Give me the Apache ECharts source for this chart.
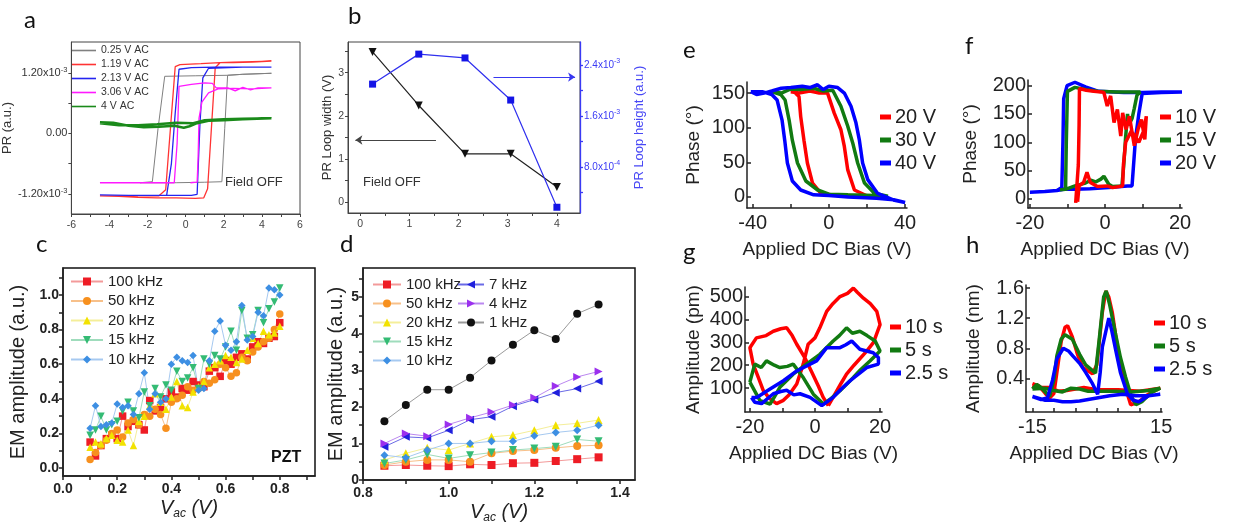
<!DOCTYPE html>
<html>
<head>
<meta charset="utf-8">
<title>PR loops, EM amplitude and PFM loops</title>
<script src="https://cdn.jsdelivr.net/npm/echarts@6/dist/echarts.min.js"></script>
<style>
html, body { margin: 0; padding: 0; background: #fff; }
#chart { width: 1234px; height: 529px; }
</style>
</head>
<body>
<div id="chart"></div>
<script>
// ---------- panel a : PR loops, y in units of 1e-3
var aNames = ['0.25 V AC', '1.19 V AC', '2.13 V AC', '3.06 V AC', '4 V AC'];
var aGray = [[-2.4,-0.98],[-0.5,-0.98],[1.0,-0.97],[1.9,-0.96],[2.05,0.1],[2.2,1.15],[3.0,1.17],[4.5,1.19],[3.0,1.17],[2.2,1.15],[0.5,1.14],[-1.1,1.13],[-1.45,0.1],[-1.75,-0.96],[-2.4,-0.98]];
var aRed = [[-4.5,-1.24],[-3.5,-1.25],[-2.5,-1.27],[-1.5,-1.28],[-0.5,-1.28],[0.5,-1.29],[0.95,-1.28],[1.15,-1.1],[1.35,0.1],[1.55,1.3],[1.8,1.40],[2.5,1.40],[3.5,1.41],[4.5,1.43],[3.5,1.42],[2.5,1.41],[1.8,1.40],[0.8,1.38],[-0.3,1.36],[-0.55,1.32],[-0.8,0.1],[-1.05,-1.12],[-1.4,-1.24],[-4.5,-1.24]];
var aBlue = [[-4.5,-1.22],[-3,-1.23],[-1.0,-1.23],[-0.75,-0.6],[-0.55,0.4],[-0.35,1.27],[0.3,1.30],[1.5,1.31],[3,1.31],[4.5,1.31],[3,1.31],[1.2,1.29],[0.9,1.1],[0.75,0.2],[0.6,-1.21],[0.3,-1.23],[0.05,-1.23],[-1.0,-1.23]];
var aMagenta = [[-4.5,-0.98],[-2,-0.98],[-0.6,-0.98],[-0.45,-0.2],[-0.35,0.93],[0.3,0.97],[1.0,1.0],[1.4,0.99],[1.6,0.9],[2.2,0.9],[2.6,0.84],[3.0,0.91],[3.4,0.86],[3.8,0.9],[4.5,0.9],[3.5,0.88],[2.5,0.89],[1.7,0.88],[1.2,0.8],[0.85,0.62],[0.7,0.3],[0.65,-0.5],[0.6,-0.97],[0.25,-0.98]];
var aGreen = [[-4.5,0.22],[-3.8,0.21],[-3,0.15],[-2.2,0.12],[-1.4,0.13],[-0.6,0.15],[-0.1,0.11],[0.2,0.14],[0.6,0.2],[1.2,0.25],[2,0.26],[3,0.28],[4.5,0.3],[3,0.29],[2,0.28],[1,0.26],[0.4,0.2],[-0.5,0.21],[-1.5,0.18],[-2.5,0.16],[-3.5,0.16],[-4.5,0.2]];

// ---------- panel b : loop width / height vs AC voltage
var bVac = [0.25, 1.19, 2.13, 3.06, 4];
var bWidth = [3.48, 2.24, 1.12, 1.12, 0.35];
var bHeight = [2.10, 2.57, 2.51, 1.85, 0.17]; // x1e-3

// ---------- panel c : EM amplitude, PZT
var cNames = ['100 kHz', '50 kHz', '20 kHz', '15 kHz', '10 kHz'];
var cVac = [0.10,0.12,0.14,0.16,0.18,0.20,0.22,0.24,0.26,0.28,0.30,0.32,0.34,0.36,0.38,0.40,0.42,0.44,0.46,0.48,0.50,0.52,0.54,0.56,0.58,0.60,0.62,0.64,0.66,0.68,0.70,0.72,0.74,0.76,0.78,0.80];
var c100 = [0.15,0.07,0.13,0.17,0.19,0.17,0.30,0.24,0.27,0.25,0.22,0.39,0.33,0.35,0.40,0.44,0.41,0.46,0.45,0.50,0.48,0.47,0.56,0.58,0.53,0.62,0.60,0.64,0.66,0.63,0.70,0.73,0.72,0.75,0.76,0.84];
var c50 = [0.05,0.09,0.13,0.16,0.20,0.22,0.18,0.26,0.28,0.25,0.31,0.30,0.34,0.31,0.23,0.38,0.40,0.42,0.47,0.45,0.46,0.50,0.49,0.51,0.60,0.58,0.53,0.55,0.64,0.62,0.67,0.70,0.73,0.75,0.80,0.89];
var c20 = [0.12,0.15,0.14,0.17,0.19,0.16,0.15,0.22,0.13,0.27,0.30,0.36,0.43,0.38,0.34,0.41,0.50,0.36,0.35,0.44,0.47,0.50,0.58,0.60,0.62,0.65,0.64,0.61,0.63,0.68,0.75,0.72,0.79,0.77,0.78,0.82];
var c15 = [0.19,0.22,0.30,0.22,0.25,0.27,0.33,0.38,0.33,0.29,0.44,0.36,0.46,0.41,0.48,0.45,0.56,0.50,0.52,0.58,0.46,0.63,0.60,0.65,0.63,0.70,0.79,0.68,0.91,0.75,0.77,0.91,0.84,0.92,0.96,1.04];
var c10 = [0.23,0.36,0.24,0.25,0.26,0.37,0.35,0.36,0.31,0.43,0.55,0.34,0.43,0.38,0.40,0.60,0.64,0.62,0.61,0.65,0.45,0.46,0.62,0.79,0.85,0.71,0.68,0.73,0.94,0.74,0.76,0.90,0.88,1.04,1.03,1.00];

// ---------- panel d : EM amplitude, higher voltages
var dNames = ['100 kHz', '50 kHz', '20 kHz', '15 kHz', '10 kHz', '7 kHz', '4 kHz', '1 kHz'];
var dVac = [0.85,0.90,0.95,1.00,1.05,1.10,1.15,1.20,1.25,1.30,1.35];
var d100 = [0.39,0.41,0.39,0.38,0.43,0.41,0.46,0.47,0.52,0.57,0.62];
var d50 = [0.41,0.50,0.55,0.55,0.50,0.73,0.79,0.82,0.88,0.93,0.95];
var d20 = [0.55,0.73,0.88,0.82,1.00,1.18,1.23,1.36,1.50,1.55,1.64];
var d15 = [0.45,0.55,0.70,0.59,0.68,0.75,0.82,0.86,0.91,1.11,1.06];
var d10 = [0.68,0.61,0.82,1.00,1.00,1.06,1.06,1.21,1.30,1.36,1.50];
var d7 = [0.91,1.18,1.15,1.36,1.65,1.73,2.02,2.20,2.39,2.50,2.70];
var d4 = [1.00,1.27,1.20,1.52,1.70,1.86,2.05,2.25,2.57,2.82,2.97];
var d1 = [1.61,2.05,2.47,2.47,2.80,3.27,3.70,4.10,3.86,4.55,4.80];

// ---------- panel e : phase loops
var eNames = ['20 V', '30 V', '40 V'];
var e20 = [[-20,152],[-15.7,150],[-10,153],[-5,150],[-0.7,150],[2.8,121],[6.3,97],[8.1,73],[9.9,39],[13.4,10],[20.4,1],[22,0],[18,1],[10,2],[1.1,3],[-4.2,5],[-8.6,20],[-11.3,49],[-13.1,82],[-14.8,116],[-15.7,145],[-19.2,154],[-20,152]];
var e30 = [[-30,152],[-25,150],[-20,156],[-15,155],[-8,157],[-3,153],[2,154],[6.3,131],[9.9,102],[12.5,78],[15.1,49],[18.7,20],[24,5],[31,1],[24,2],[10,3],[0,4],[-5.9,10],[-12.1,23],[-16.5,49],[-19.2,82],[-20.9,111],[-23,140],[-25.3,148],[-30,152]];
var e40 = [[-41,152],[-38,148],[-34,150],[-30,153],[-25,157],[-20,158],[-14,160],[-10,158],[-6,162],[-3,155],[0,160],[4.6,158],[8.1,150],[11.6,131],[14.2,107],[16,82],[17.7,49],[20.4,25],[25.6,5],[34.4,-5],[40,-8],[34,-4],[25,-2],[10,0],[0,2],[-8,3],[-14.8,10],[-19.2,23],[-21.8,49],[-23.2,82],[-24.6,111],[-27.2,140],[-30,148],[-35,152],[-41,152]];

// ---------- panel f : phase loops
var fNames = ['10 V', '15 V', '20 V'];
var f10 = [[-7.8,-7],[-7.3,-5],[-7.1,60],[-6.9,130],[-6.8,195],[-5,192],[-3,190],[-1,189],[-0.3,188],[0.6,164],[1.5,182],[2.4,135],[3.3,158],[4.2,111],[4.7,152],[5.6,123],[6.5,146],[7.8,94],[8.8,123],[9.7,140],[10.6,105],[11,146],[10.3,120],[9,100],[7,120],[5.5,100],[4.9,60],[4.7,23],[2,20],[0.6,23],[-2,22],[-3.9,29],[-4.8,47],[-5.7,29],[-6.9,23],[-7.3,-5]];
var f15 = [[-12,16],[-10.5,17],[-10.3,100],[-10,190],[-8,197],[-5,193],[-2,190],[3,189],[8,189],[9.4,189],[8.5,183],[7.8,160],[7.2,142],[6.3,130],[6.0,150],[5.5,110],[5,60],[4.5,23],[2,22],[1,26],[-0.3,40],[-1.1,35],[-2.5,30],[-3.8,33],[-5.2,28],[-8,23],[-10.5,17]];
var f20 = [[-20,12],[-16,13],[-12.8,15],[-11.5,20],[-11.2,100],[-11,177],[-10.1,200],[-8,206],[-5.2,198],[-1.7,190],[5,188],[10,188],[15,189],[20.5,189],[15,188],[9.9,186],[9,150],[8.1,105],[7.2,23],[6,23],[1,20],[-4,18],[-8,17],[-11,17],[-12.8,15]];

// ---------- panel g : amplitude loops (pm)
var gNames = ['10 s', '5 s', '2.5 s'];
var g10 = [[4.1,23],[6,70],[8,120],[9.7,161],[12,200],[15.9,262],[18,300],[20,378],[19,436],[17,470],[14.9,494],[13,520],[11.8,538],[10,515],[7.7,501],[5.5,470],[3.6,436],[1.5,364],[0,320],[-2.1,292],[-3.6,205],[-5.6,118],[-8,70],[-9.7,46],[-11.8,32],[-14,55],[-15.9,90],[-17.5,150],[-19,205],[-20,277],[-18,320],[-15,330],[-12.8,349],[-10.5,360],[-8.7,364],[-7,330],[-5.6,292],[-3,230],[-1,170],[1,110],[2.5,60],[4.1,23]];
var g5 = [[-20,126],[-18.5,205],[-16.5,190],[-14.9,219],[-12.5,200],[-10.8,190],[-8.5,195],[-6.7,205],[-3.6,146],[-0.5,73],[2.6,30],[5,55],[7.7,88],[11.8,146],[14,180],[16.9,219],[20,262],[18.5,306],[16,330],[13.8,349],[11.5,340],[9.7,364],[7.5,330],[5.6,306],[1.5,248],[-2.6,205],[-6.7,161],[-10.8,103],[-12.5,60],[-13.8,30],[-16.9,45],[-20,126]];
var g25 = [[-19.5,59],[-18.5,38],[-16.4,32],[-12.8,75],[-10.5,85],[-8.7,90],[-6.5,70],[-4.6,75],[-1.5,59],[2.1,23],[5.6,59],[8,95],[10.8,132],[15.9,190],[19.5,205],[19.5,234],[17.9,255],[13.8,270],[11.3,306],[9.5,290],[7.7,277],[3.6,277],[0.5,219],[-1.5,205],[-5.6,175],[-9.7,132],[-13.8,96],[-17.9,59],[-19.5,59]];

// ---------- panel h : amplitude loops (nm)
var hNames = ['10 s', '5 s', '2.5 s'];
var h10 = [[-15,0.33],[-13.5,0.3],[-12,0.2],[-11,0.14],[-10,0.2],[-9,0.6],[-8.3,0.89],[-7.4,1.08],[-6.8,1.1],[-5.7,0.95],[-4.5,0.72],[-3.3,0.55],[-1,0.46],[0,0.58],[0.5,0.84],[1.3,1.28],[2.1,1.56],[2.8,1.48],[3.6,1.28],[4.8,0.82],[6,0.5],[7,0.22],[7.9,0.05],[9.8,0.09],[11.5,0.17],[12.9,0.22],[14.8,0.27],[10,0.23],[5,0.25],[0,0.25],[-3,0.28],[-5,0.26],[-7,0.24],[-9,0.23],[-11,0.28],[-13,0.28],[-15,0.31]];
var h5 = [[-15,0.26],[-14,0.32],[-13,0.28],[-12,0.22],[-11,0.16],[-10,0.38],[-9.3,0.7],[-8.3,0.92],[-7.4,0.98],[-5.7,0.92],[-4,0.72],[-2.6,0.58],[-0.3,0.47],[0.5,0.88],[1.6,1.48],[2.2,1.56],[3,1.38],[4.4,0.98],[5.5,0.68],[6.7,0.42],[8,0.17],[9.1,0.05],[10.5,0.09],[11.4,0.14],[13,0.22],[14.8,0.27],[12,0.24],[8,0.22],[4,0.23],[1,0.23],[-2,0.23],[-4,0.26],[-6,0.27],[-8,0.22],[-10,0.24],[-12,0.27],[-15,0.26]];
var h25 = [[-15,0.16],[-13,0.12],[-11.5,0.14],[-10.3,0.38],[-9.3,0.66],[-7.8,0.8],[-6.5,0.76],[-5.6,0.7],[-4,0.6],[-2.6,0.48],[-1,0.33],[0.2,0.19],[0.8,0.48],[1.3,0.82],[2.8,1.2],[3.5,1.03],[4.4,0.78],[5.5,0.48],[7.1,0.2],[8.5,0.11],[9.8,0.09],[12.1,0.17],[14.8,0.19],[12,0.17],[9,0.17],[6,0.19],[3,0.17],[0,0.14],[-2,0.12],[-4,0.1],[-6,0.09],[-8,0.09],[-10,0.11],[-12,0.11],[-15,0.16]];

var FONT = '"Liberation Sans", Arial, sans-serif';
var SUP = { s: { fontSize: 7.5, lineHeight: 7, verticalAlign: 'top', fontFamily: FONT, color: '#333' } };

function pairs(xs, ys) {
	return xs.map(function (x, i) { return [x, ys[i]]; });
}

function valAxis(p) {
	return {
		type: 'value', gridIndex: p.grid, min: p.min, max: p.max, position: p.pos,
		name: p.name || '', nameLocation: 'middle', nameGap: p.nameGap || 0, nameRotate: p.nameRotate,
		nameTextStyle: Object.assign({ fontFamily: FONT, color: '#222' }, p.nameStyle || {}),
		axisLine: { show: true, onZero: false, lineStyle: { color: p.color || '#222', width: p.lw || 1 } },
		axisTick: { show: true, inside: !!p.inside, length: p.tickLen || 3, customValues: p.ticks, lineStyle: { color: p.color || '#222', width: p.lw || 1 } },
		axisLabel: {
			customValues: p.labels, margin: p.margin, fontSize: p.fs, fontWeight: p.fw || 'normal',
			color: p.labelColor || '#222', fontFamily: FONT, formatter: p.fmt, rich: p.rich, lineHeight: p.lh
		},
		splitLine: { show: false }
	};
}

function curve(name, gi, yi, data, color, width, z) {
	return {
		name: name, type: 'line', xAxisIndex: gi, yAxisIndex: yi, data: data, symbol: 'none',
		lineStyle: { color: color, width: width }, itemStyle: { color: color }, z: z || 2, silent: true
	};
}

function marked(name, gi, yi, data, color, lineColor, symbol, rotate, size) {
	return {
		name: name, type: 'line', xAxisIndex: gi, yAxisIndex: yi, data: data,
		symbol: symbol, symbolRotate: rotate || 0, symbolSize: size || 7, showSymbol: true,
		lineStyle: { color: lineColor, width: 1 }, itemStyle: { color: color }, silent: true
	};
}

function strip(n) { return n.split('|')[1]; }

var aColors = ['#808080', '#ff3333', '#2424f0', '#ff19ff', '#1a8a1a'];
var aData = [aGray, aRed, aBlue, aMagenta, aGreen];
var cColors = ['#ee1c25', '#f7901e', '#f2e200', '#34bb74', '#3d8fe3'];
var cLines = ['#f39a9a', '#f7c08a', '#f4ee9a', '#9fdcbc', '#a6c9f0'];
var cSymbols = ['rect', 'circle', 'triangle', 'triangle', 'diamond'];
var cRot = [0, 0, 0, 180, 0];
var cData = [c100, c50, c20, c15, c10];
var dData = [d100, d50, d20, d15, d10, d7, d4, d1];
var dColors = cColors.concat(['#2020dd', '#9b30ee', '#111111']);
var dLines = cLines.concat(['#6a6ae6', '#bb88f0', '#9a9a9a']);
var dSymbols = cSymbols.concat(['triangle', 'triangle', 'circle']);
var dRot = cRot.concat([90, -90, 0]);
var pfm = ['#ff0000', '#117a11', '#0000ff'];

var series = [];
aNames.forEach(function (n, i) { series.push(curve('a|' + n, 0, 0, aData[i], aColors[i], i === 4 ? 2.5 : (i === 0 ? 1 : 1.3))); });
series.push({
	name: 'b|width', type: 'line', xAxisIndex: 1, yAxisIndex: 1, data: pairs(bVac, bWidth),
	symbol: 'triangle', symbolRotate: 180, symbolSize: 8, lineStyle: { color: '#222', width: 1.2 }, itemStyle: { color: '#111' },
	markLine: {
		silent: true, symbol: ['none', 'arrow'], symbolSize: 7, label: { show: false },
		lineStyle: { color: '#444', type: 'solid', width: 1 },
		data: [[{ coord: [1.54, 1.44] }, { coord: [-0.1, 1.44] }]]
	}
});
series.push({
	name: 'b|height', type: 'line', xAxisIndex: 1, yAxisIndex: 2, data: pairs(bVac, bHeight),
	symbol: 'rect', symbolSize: 7, lineStyle: { color: '#3030ee', width: 1.2 }, itemStyle: { color: '#1414e6' },
	markLine: {
		silent: true, symbol: ['none', 'arrow'], symbolSize: 7, label: { show: false },
		lineStyle: { color: '#3838f0', type: 'solid', width: 1 },
		data: [[{ coord: [2.71, 2.21] }, { coord: [4.37, 2.21] }]]
	}
});
cNames.forEach(function (n, i) { series.push(marked('c|' + n, 2, 3, pairs(cVac, cData[i]), cColors[i], cLines[i], cSymbols[i], cRot[i], 7.5)); });
dNames.forEach(function (n, i) { series.push(marked('d|' + n, 3, 4, pairs(dVac, dData[i]), dColors[i], dLines[i], dSymbols[i], dRot[i], 8)); });
[e20, e30, e40].forEach(function (d, i) { series.push(curve('e|' + eNames[i], 4, 5, d, pfm[i], 3.5)); });
series.push(curve('f|' + fNames[2], 5, 6, f20, pfm[2], 3.5));
series.push(curve('f|' + fNames[1], 5, 6, f15, pfm[1], 3.5));
series.push(curve('f|' + fNames[0], 5, 6, f10, pfm[0], 3.5));
[g10, g5, g25].forEach(function (d, i) { series.push(curve('g|' + gNames[i], 6, 7, d, pfm[i], 3.5)); });
[h10, h5, h25].forEach(function (d, i) { series.push(curve('h|' + hNames[i], 7, 8, d, pfm[i], 3.5)); });

function prefixed(p, names) { return names.map(function (n) { return p + '|' + n; }); }

function pfmLegend(p, names, left, top) {
	return {
		data: prefixed(p, names), orient: 'vertical', left: left, top: top, padding: 0,
		itemWidth: 11, itemHeight: 5, itemGap: 3, icon: 'rect', formatter: strip, selectedMode: false,
		textStyle: { fontFamily: FONT, fontSize: 20, color: '#222', padding: [0, 0, 0, -1] }
	};
}

function fixed1(v) { return (+v).toFixed(1); }
function expLabel(v) {
	if (Math.abs(v) < 1e-9) return '0.00';
	return (v < 0 ? '-' : '') + Math.abs(v).toFixed(2) + 'x10{s|-3}';
}
function expLabelB(v) {
	return v >= 1 ? v.toFixed(1) + 'x10{s|-3}' : (v * 10).toFixed(1) + 'x10{s|-4}';
}

var vacName = '{i|V}{sub|ac}{i| (V)}';
var vacRich = {
	i: { fontStyle: 'italic', fontSize: 20, fontFamily: FONT, color: '#222', lineHeight: 24 },
	sub: { fontStyle: 'italic', fontSize: 12, fontFamily: FONT, color: '#222', lineHeight: 10, verticalAlign: 'bottom' }
};

var option = {
	animation: false,
	backgroundColor: '#fff',
	grid: [
		{ left: 68, top: 42, width: 232, height: 172, show: true, borderColor: '#444', borderWidth: 1 },
		{ left: 348, top: 42, width: 232, height: 171, show: true, borderColor: '#444', borderWidth: 1 },
		{ left: 63, top: 268, width: 252, height: 208, show: true, borderColor: '#111', borderWidth: 1.5 },
		{ left: 363, top: 268, width: 272, height: 212, show: true, borderColor: '#111', borderWidth: 1.5 },
		{ left: 747, top: 82, width: 160, height: 126 },
		{ left: 1028, top: 80, width: 154, height: 128 },
		{ left: 745, top: 287, width: 137, height: 125 },
		{ left: 1026, top: 285, width: 136, height: 127 }
	],
	xAxis: [
		valAxis({ grid: 0, min: -6, max: 6, ticks: [-6,-5,-4,-3,-2,-1,0,1,2,3,4,5,6], labels: [-6,-4,-2,0,2,4,6], fs: 10.5, margin: 6, color: '#444', labelColor: '#444' }),
		valAxis({ grid: 1, min: -0.25, max: 4.47, ticks: [0,0.5,1,1.5,2,2.5,3,3.5,4], labels: [0,1,2,3,4], fs: 10.5, margin: 6, color: '#444', labelColor: '#444' }),
		valAxis({ grid: 2, min: 0, max: 0.93, ticks: [0,0.1,0.2,0.3,0.4,0.5,0.6,0.7,0.8,0.9], labels: [0,0.2,0.4,0.6,0.8], fs: 14, fw: 'bold', margin: 6, lw: 1.5, tickLen: 4, fmt: fixed1,
			name: vacName, nameGap: 20, nameStyle: { rich: vacRich } }),
		valAxis({ grid: 3, min: 0.8, max: 1.435, ticks: [0.8,0.9,1.0,1.1,1.2,1.3,1.4], labels: [0.8,1.0,1.2,1.4], fs: 14, fw: 'bold', margin: 6, lw: 1.5, tickLen: 4, fmt: fixed1,
			name: vacName, nameGap: 20, nameStyle: { rich: vacRich } }),
		valAxis({ grid: 4, min: -43, max: 41, ticks: [-40,-20,0,20,40], labels: [-40,0,40], fs: 20, margin: 5, inside: true, lw: 1.5, tickLen: 4,
			name: 'Applied DC Bias (V)', nameGap: 32, nameStyle: { fontSize: 19 } }),
		valAxis({ grid: 5, min: -20.5, max: 20.5, ticks: [-20,-10,0,10,20], labels: [-20,0,20], fs: 20, margin: 5, inside: true, lw: 1.5, tickLen: 4,
			name: 'Applied DC Bias (V)', nameGap: 32, nameStyle: { fontSize: 19 } }),
		valAxis({ grid: 6, min: -21.5, max: 20.6, ticks: [-20,-10,0,10,20], labels: [-20,0,20], fs: 20, margin: 5, inside: true, lw: 1.5, tickLen: 4,
			name: 'Applied DC Bias (V)', nameGap: 32, nameStyle: { fontSize: 19 } }),
		valAxis({ grid: 7, min: -16.5, max: 15.2, ticks: [-15,-10,-5,0,5,10,15], labels: [-15,15], fs: 20, margin: 5, inside: true, lw: 1.5, tickLen: 4,
			name: 'Applied DC Bias (V)', nameGap: 32, nameStyle: { fontSize: 19 } })
	],
	yAxis: [
		valAxis({ grid: 0, min: -1.6, max: 1.81, ticks: [-1.2,-0.6,0,0.6,1.2], labels: [-1.2,0,1.2], fs: 11, margin: 4, color: '#444', labelColor: '#333',
			fmt: expLabel, rich: SUP, lh: 14, name: 'PR (a.u.)', nameGap: 45, nameStyle: { fontSize: 13, color: '#333' } }),
		valAxis({ grid: 1, min: -0.25, max: 3.71, ticks: [0,0.5,1,1.5,2,2.5,3,3.5], labels: [0,1,2,3], fs: 10.5, margin: 4, color: '#444', labelColor: '#444',
			name: 'PR Loop width (V)', nameGap: 14, nameStyle: { fontSize: 13, color: '#333' } }),
		valAxis({ grid: 1, pos: 'right', min: 0.08, max: 2.76, ticks: [0.4,0.8,1.2,1.6,2.0,2.4], labels: [0.8,1.6,2.4], fs: 10, margin: 4, color: '#3a3af5', labelColor: '#3a3af5', lw: 1.3,
			fmt: expLabelB, rich: { s: { fontSize: 7, lineHeight: 7, verticalAlign: 'top', fontFamily: FONT, color: '#3a3af5' } }, lh: 14,
			name: 'PR Loop height (a.u.)', nameGap: 53, nameRotate: 90, nameStyle: { fontSize: 13, color: '#4848f5' } }),
		valAxis({ grid: 2, min: -0.046, max: 1.156, ticks: [0,0.1,0.2,0.3,0.4,0.5,0.6,0.7,0.8,0.9,1.0,1.1], labels: [0,0.2,0.4,0.6,0.8,1.0], fs: 14, fw: 'bold', margin: 4, lw: 1.5, tickLen: 4, fmt: fixed1,
			name: 'EM amplitude (a.u.)', nameGap: 35, nameStyle: { fontSize: 20 } }),
		valAxis({ grid: 3, min: 0, max: 5.8, ticks: [0,0.5,1,1.5,2,2.5,3,3.5,4,4.5,5,5.5], labels: [0,1,2,3,4,5], fs: 14, fw: 'bold', margin: 4, lw: 1.5, tickLen: 4,
			name: 'EM amplitude (a.u.)', nameGap: 17, nameStyle: { fontSize: 20 } }),
		valAxis({ grid: 4, min: -16, max: 166, ticks: [0,50,100,150], labels: [0,50,100,150], fs: 20, margin: 2, inside: true, lw: 1.5, tickLen: 4,
			name: 'Phase (°)', nameGap: 44, nameStyle: { fontSize: 19 } }),
		valAxis({ grid: 5, min: -16, max: 210, ticks: [0,50,100,150,200], labels: [0,50,100,150,200], fs: 20, margin: 2, inside: true, lw: 1.5, tickLen: 4,
			name: 'Phase (°)', nameGap: 48, nameStyle: { fontSize: 19 } }),
		valAxis({ grid: 6, min: -5, max: 543, ticks: [100,200,300,400,500], labels: [100,200,300,400,500], fs: 20, margin: 2, inside: true, lw: 1.5, tickLen: 4,
			name: 'Amplitude (pm)', nameGap: 42, nameStyle: { fontSize: 19 } }),
		valAxis({ grid: 7, min: -0.046, max: 1.64, ticks: [0.4,0.8,1.2,1.6], labels: [0.4,0.8,1.2,1.6], fs: 20, margin: 2, inside: true, lw: 1.5, tickLen: 4, fmt: fixed1,
			name: 'Amplitude (nm)', nameGap: 43, nameStyle: { fontSize: 19 } })
	],
	legend: [
		{
			data: prefixed('a', aNames), orient: 'vertical', left: 72, top: 45, padding: 0, itemWidth: 24, itemHeight: 1.6, itemGap: 3,
			icon: 'rect', formatter: strip, selectedMode: false, textStyle: { fontFamily: FONT, fontSize: 10.5, color: '#333' }
		},
		{
			data: prefixed('c', cNames), orient: 'vertical', left: 70, top: 274, padding: 0, itemWidth: 32, itemHeight: 10, itemGap: 4.5,
			formatter: strip, selectedMode: false, textStyle: { fontFamily: FONT, fontSize: 15, color: '#222' }
		},
		{
			data: prefixed('d', dNames.slice(0, 5)), orient: 'vertical', left: 372, top: 277, padding: 0, itemWidth: 28, itemHeight: 10, itemGap: 4,
			formatter: strip, selectedMode: false, textStyle: { fontFamily: FONT, fontSize: 15, color: '#222' }
		},
		{
			data: prefixed('d', dNames.slice(5)), orient: 'vertical', left: 457, top: 277, padding: 0, itemWidth: 26, itemHeight: 10, itemGap: 4,
			formatter: strip, selectedMode: false, textStyle: { fontFamily: FONT, fontSize: 15, color: '#222' }
		},
		pfmLegend('e', eNames, 880, 107),
		pfmLegend('f', fNames, 1160, 107),
		pfmLegend('g', gNames, 890, 317),
		pfmLegend('h', hNames, 1154, 313)
	],
	graphic: [
		{ type: 'text', left: 24, top: 8, style: { text: 'a', font: '24px Lato, sans-serif', fill: '#111' } },
		{ type: 'text', left: 348, top: 4, style: { text: 'b', font: '24px Lato, sans-serif', fill: '#111' } },
		{ type: 'text', left: 36, top: 232, style: { text: 'c', font: '24px Lato, sans-serif', fill: '#111' } },
		{ type: 'text', left: 340, top: 232, style: { text: 'd', font: '24px Lato, sans-serif', fill: '#111' } },
		{ type: 'text', left: 683, top: 38, style: { text: 'e', font: '24px Lato, sans-serif', fill: '#111' } },
		{ type: 'text', left: 965, top: 34, style: { text: 'f', font: '24px Lato, sans-serif', fill: '#111' } },
		{ type: 'text', left: 683, top: 240, style: { text: 'g', font: '24px Lato, sans-serif', fill: '#111' } },
		{ type: 'text', left: 966, top: 233, style: { text: 'h', font: '24px Lato, sans-serif', fill: '#111' } },
		{ type: 'text', left: 225, top: 176, style: { text: 'Field OFF', font: '13px "Liberation Sans", Arial', fill: '#333' } },
		{ type: 'text', left: 363, top: 176, style: { text: 'Field OFF', font: '13px "Liberation Sans", Arial', fill: '#333' } },
		{ type: 'text', left: 271, top: 450, style: { text: 'PZT', font: 'bold 16px "Liberation Sans", Arial', fill: '#111' } }
	],
	series: series
};

var chart = echarts.init(document.getElementById('chart'));
chart.setOption(option);
</script>
</body>
</html>
